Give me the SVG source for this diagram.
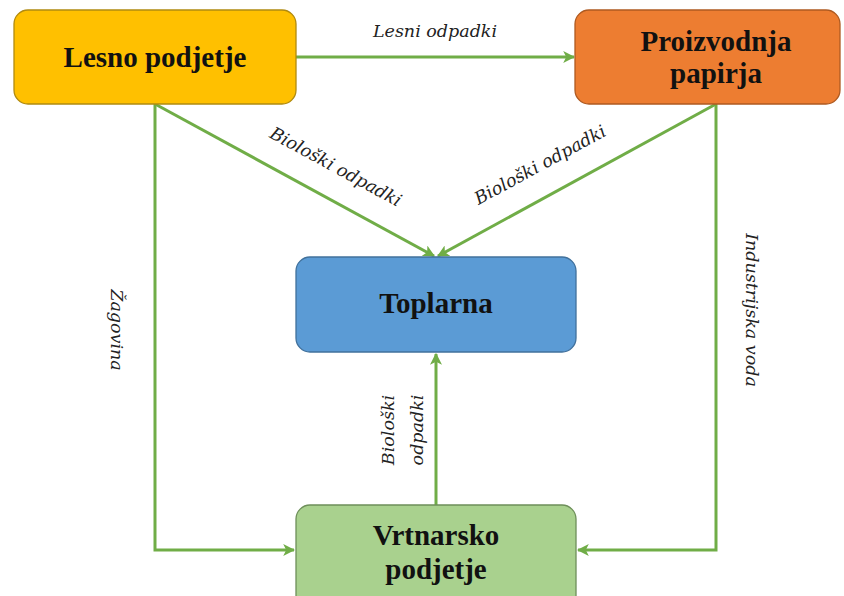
<svg xmlns="http://www.w3.org/2000/svg" width="844" height="596" viewBox="0 0 844 596">
<style>
.node{stroke-width:1.3}
.nt{font-family:"Liberation Serif","Times New Roman",serif;font-weight:bold;font-size:29px;fill:#111;text-anchor:middle}
.lt{font-family:"DejaVu Serif","Liberation Serif",serif;font-style:italic;font-size:17.5px;fill:#222;text-anchor:middle}
.c{fill:none;stroke:#70AD47;stroke-width:3;marker-end:url(#ah)}
</style>
<defs>
<marker id="ah" viewBox="0 0 10 10" refX="9" refY="5" markerWidth="4" markerHeight="4" orient="auto" markerUnits="strokeWidth">
<path d="M0,0 L10,5 L0,10 L2.5,5 z" fill="#70AD47"/>
</marker>
</defs>
<rect width="844" height="596" fill="#fff"/>
<g id="connectors">
<path class="c" d="M296,57 L574,57"/>
<path class="c" d="M155,104 L434,256"/>
<path class="c" d="M716,104 L438,256"/>
<path class="c" d="M155,104 L155,550 L294,550"/>
<path class="c" d="M716,104 L716,550 L578,550"/>
<path class="c" d="M436,505 L436,354"/>
<text class="lt" x="435" y="37">Lesni odpadki</text>
<text class="lt" transform="translate(333,172) rotate(28.5)">Biološki odpadki</text>
<text class="lt" transform="translate(543,170) rotate(-28.5)">Biološki odpadki</text>
<text class="lt" transform="translate(111,330) rotate(90)">Žagovina</text>
<text class="lt" transform="translate(746,310) rotate(90)">Industrijska voda</text>
<text class="lt" transform="translate(394,430) rotate(-90)">Biološki</text>
<text class="lt" transform="translate(423,430) rotate(-90)">odpadki</text>
</g>
<g id="lesno">
<rect class="node" x="14" y="10" width="282" height="94" rx="14" fill="#FFC000" stroke="#B08A10"/>
<text class="nt" x="155" y="67">Lesno podjetje</text>
</g>
<g id="papir">
<rect class="node" x="575" y="10" width="265" height="94" rx="14" fill="#ED7D31" stroke="#AE5A21"/>
<text class="nt" x="716" y="51">Proizvodnja</text>
<text class="nt" x="716" y="83">papirja</text>
</g>
<g id="toplarna">
<rect class="node" x="296" y="257" width="280" height="95" rx="14" fill="#5B9BD5" stroke="#41719C"/>
<text class="nt" x="436" y="313">Toplarna</text>
</g>
<g id="vrtnarsko">
<rect class="node" x="296" y="505" width="280" height="105" rx="14" fill="#A9D18E" stroke="#6E8F5A"/>
<text class="nt" x="436" y="545">Vrtnarsko</text>
<text class="nt" x="436" y="579">podjetje</text>
</g>
</svg>
